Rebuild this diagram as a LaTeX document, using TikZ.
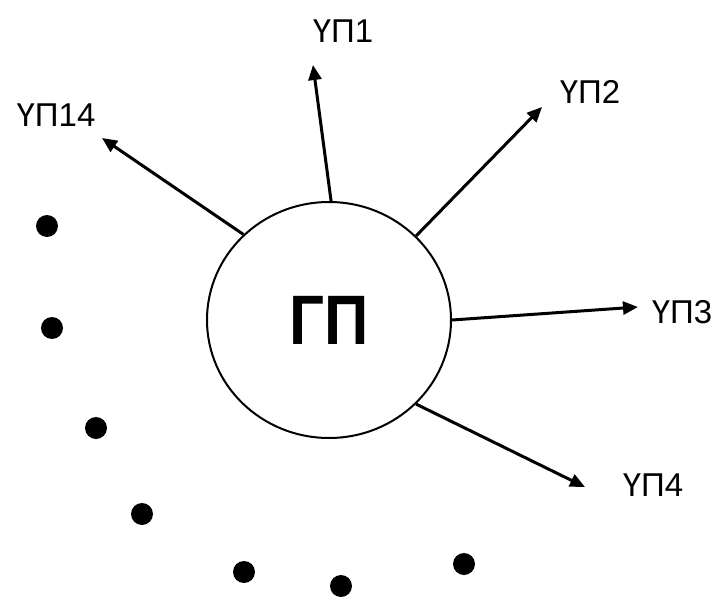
\documentclass[tikz,border=0pt]{standalone}
\usepackage{fontspec}
\setmainfont{Liberation Sans}
\newfontfamily\gpfont[FakeStretch=0.88]{Liberation Sans}
\usetikzlibrary{arrows.meta,shapes.geometric}

\begin{document}
\begin{tikzpicture}[x=1pt,y=-1pt,
	ray/.style={line width=3pt,-{Triangle[length=15pt,width=13pt]}},
	lbl/.style={font=\fontsize{33}{33}\selectfont,inner sep=0pt}]
	\def\r{11}	%radius of the dots
	\useasboundingbox (0,0) rectangle (716,597);
	
	\node[draw,ellipse,line width=2pt,minimum width=244pt,minimum height=236pt,inner sep=0pt,
		font=\gpfont\bfseries\fontsize{70}{70}\selectfont] (gp) at (329,320) {ГП};	%central circle
	
	\node[lbl] (up1) at (343,31) {ҮП1};
	\node[lbl] (up2) at (590,92) {ҮП2};
	\node[lbl] (up3) at (682,312) {ҮП3};
	\node[lbl] (up4) at (653,485) {ҮП4};
	\node[lbl] (up14) at (56,115) {ҮП14};
	
	%arrow tips, a little short of the labels
	\coordinate (t1) at (313,65);
	\coordinate (t2) at (542,107);
	\coordinate (t3) at (638,307);
	\coordinate (t4) at (585,487);
	\coordinate (t14) at (102,138);
	
	\draw[ray] (gp.89) -- (t1);
	\draw[ray] (gp.44) -- (t2);
	\draw[ray] (gp.0) -- (t3);
	\draw[ray] (gp.-44) -- (t4);
	\draw[ray] (gp.135) -- (t14);
	
	\foreach \x/\y in {47/226,52/328,96/428,142/514,244/572,341/586,464/564}{
		\fill (\x,\y) circle (\r);		%dots for the omitted ones
	}
\end{tikzpicture}
\end{document}
